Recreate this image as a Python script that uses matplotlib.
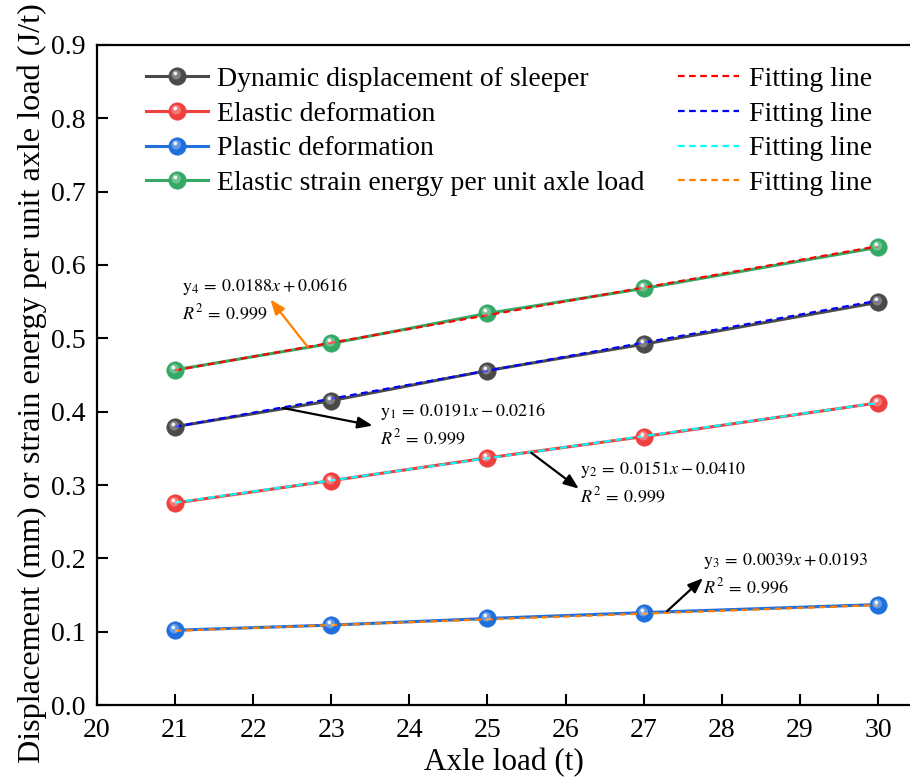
import numpy as np
import matplotlib
matplotlib.use("Agg")
import matplotlib.pyplot as plt
from matplotlib.path import Path
from matplotlib.ticker import FormatStrFormatter
from matplotlib.legend_handler import HandlerTuple

plt.rcParams["font.family"] = "serif"
plt.rcParams["font.serif"] = ["Liberation Serif", "DejaVu Serif"]
plt.rcParams["mathtext.fontset"] = "stix"

# data
axle_load = [21, 23, 25, 27, 30]
sleeper_disp = [0.3795, 0.415, 0.456, 0.492, 0.549]
elastic_def = [0.2755, 0.306, 0.337, 0.366, 0.412]
plastic_def = [0.102, 0.109, 0.118, 0.126, 0.137]
strain_energy = [0.457, 0.493, 0.534, 0.568, 0.624]

# fitting coefficients (slope, intercept) and R^2 from the annotations
fit_y1 = (0.0191, -0.0216)
fit_y2 = (0.0151, -0.0410)
fit_y3 = (0.0039, 0.0193)
fit_y4 = (0.0188, 0.0616)
r2_y1, r2_y2, r2_y3, r2_y4 = "0.999", "0.999", "0.996", "0.999"

series_names = ["Dynamic displacement of sleeper", "Elastic deformation",
                "Plastic deformation", "Elastic strain energy per unit axle load"]
series_colors = ["#4a4a4a", "#ef4040", "#1f6fdd", "#34a865"]
fit_colors = ["#ff0000", "#0000ff", "#00ffff", "#ff8000"]


def offset_disc(cx, cy, r):
    # small disc inside a fixed [-1, 1] box so the marker is not re-centred
    circ = Path.circle((cx, cy), r)
    verts = np.vstack([[[-1, -1]], [[1, 1]], circ.vertices])
    codes = np.concatenate([[Path.MOVETO, Path.MOVETO], circ.codes])
    return Path(verts, codes)


glow_big = offset_disc(-0.15, 0.2, 0.55)
glow_small = offset_disc(-0.25, 0.35, 0.22)

fig = plt.figure(figsize=(9.10, 7.78), dpi=100)
ax = fig.add_axes([0.1066, 0.0938, 0.8934, 0.8484])

xs = np.array(axle_load, dtype=float)
all_series = [sleeper_disp, elastic_def, plastic_def, strain_energy]

ms = 12.5
series_handles = []
for ys, name, c in zip(all_series, series_names, series_colors):
    ln, = ax.plot(xs, ys, color=c, lw=2.2, marker="o", ms=ms,
                  mfc=c, mec=c, mew=0.5, zorder=3)
    g1, = ax.plot(xs, ys, ls="none", marker=glow_big, ms=ms, mfc="white",
                  mec="none", alpha=0.3, zorder=5)
    g2, = ax.plot(xs, ys, ls="none", marker=glow_small, ms=ms, mfc="white",
                  mec="none", alpha=0.9, zorder=5)
    series_handles.append((ln, g1, g2))

# fitting lines, in legend order; each sits on the series it was drawn over
fit_handles = []
for coef, fc in zip([fit_y4, fit_y1, fit_y2, fit_y3], fit_colors):
    yfit = np.polyval(coef, xs)
    fl, = ax.plot(xs, yfit, color=fc, lw=1.6, ls=(0, (3, 2)), zorder=4)
    fit_handles.append(fl)

ax.set_xlim(20, 30.41)
ax.set_ylim(0, 0.9)
ax.set_xticks(range(20, 31))
ax.set_yticks(np.arange(0, 0.91, 0.1))
ax.yaxis.set_major_formatter(FormatStrFormatter("%.1f"))
ax.spines["right"].set_visible(False)
for s in ["left", "bottom", "top"]:
    ax.spines[s].set_linewidth(1.6)
ax.tick_params(direction="in", length=8, width=1.5, labelsize=20,
               top=False, right=False)
ax.tick_params(axis="x", pad=9)
ax.tick_params(axis="y", pad=8)
ax.set_xlabel("Axle load (t)", fontsize=22.5, labelpad=4)
ax.set_ylabel("Displacement (mm) or strain energy per unit axle load (J/t)",
              fontsize=23.2)
ax.yaxis.set_label_coords(-0.062, 0.487)

handles = series_handles + fit_handles
labels = series_names + ["Fitting line"] * 4
ax.legend(handles, labels, ncol=2, frameon=False, fontsize=20, numpoints=1,
          handler_map={tuple: HandlerTuple(ndivide=1)},
          handlelength=2.2, handletextpad=0.35, columnspacing=1.2,
          labelspacing=0.33, loc="upper left", bbox_to_anchor=(0.03, 1.005))

# fit annotations: equation text, R^2 and arrow
annots = [
    (r"$\mathrm{y}_4 \:=\: 0.0188x \:+\: 0.0616$", r2_y4, (21.09, 0.570),
     (22.70, 0.488), (22.22, 0.553), fit_colors[3]),
    (r"$\mathrm{y}_1 \:=\: 0.0191x \:-\: 0.0216$", r2_y1, (23.62, 0.400),
     (22.38, 0.405), (23.53, 0.381), "black"),
    (r"$\mathrm{y}_2 \:=\: 0.0151x \:-\: 0.0410$", r2_y2, (26.18, 0.321),
     (25.56, 0.344), (26.17, 0.295), "black"),
    (r"$\mathrm{y}_3 \:=\: 0.0039x \:+\: 0.0193$", r2_y3, (27.76, 0.196),
     (27.30, 0.128), (27.76, 0.173), "black"),
]
for eq, rr, (tx, ty), tail, head, ac in annots:
    ax.text(tx, ty, eq, fontsize=13, ha="left", va="center", zorder=6)
    ax.text(tx, ty - 0.036, r"$R^2 \:=\: %s$" % rr, fontsize=13,
            ha="left", va="center", zorder=6)
    ax.annotate("", xy=head, xytext=tail,
                arrowprops=dict(arrowstyle="-|>,head_length=0.9,head_width=0.35",
                                color=ac, lw=1.6, shrinkA=0, shrinkB=0), zorder=6)

fig.savefig("out.png", dpi=100)
